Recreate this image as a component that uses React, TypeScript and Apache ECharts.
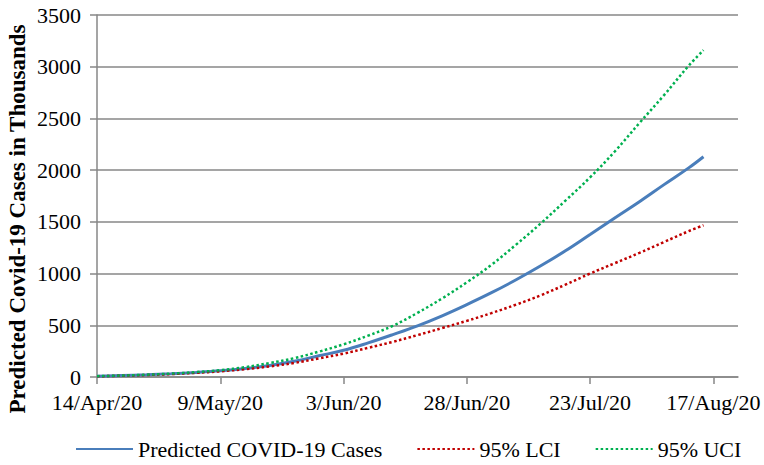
import React, { useEffect, useRef } from "react";
import * as echarts from "echarts";

// days since 14/Apr/20
const days = [0, 5, 10, 15, 20, 25, 30, 35, 40, 45, 50, 55, 60, 65, 70, 75, 80, 85, 90, 95, 100, 105, 110, 115, 120, 123];
const predicted = [8, 14, 21, 31, 44, 60, 82, 112, 152, 205, 258, 330, 410, 495, 592, 700, 815, 940, 1075, 1220, 1378, 1537, 1695, 1860, 2022, 2130];
const lci = [7, 12, 19, 28, 40, 55, 76, 102, 136, 180, 226, 282, 340, 405, 473, 543, 618, 700, 790, 893, 1000, 1100, 1200, 1305, 1410, 1467];
const uci = [8, 14, 22, 33, 47, 66, 95, 135, 182, 245, 316, 400, 495, 620, 760, 915, 1085, 1280, 1485, 1705, 1930, 2180, 2455, 2725, 3010, 3160];

const tickDays = [0, 25, 50, 75, 100, 125];
const tickLabels = ["14/Apr/20", "9/May/20", "3/Jun/20", "28/Jun/20", "23/Jul/20", "17/Aug/20"];

const seriesNames = ["Predicted COVID-19 Cases", "95% LCI", "95% UCI"];

const FONT = "Liberation Serif";
const GRID_COLOR = "#878787";

export default function App() {
  const ref = useRef<HTMLDivElement>(null);
  useEffect(() => {
    if (!ref.current) return;
    const chart = echarts.init(ref.current, undefined, { renderer: "svg" });
    const zip = (vals: number[]) => days.map((d, i) => [d, vals[i]]);
    chart.setOption({
      animation: false,
      textStyle: { fontFamily: FONT },
      grid: { left: 97, right: 26, top: 15, bottom: 88, containLabel: false },
      xAxis: {
        type: "value",
        min: 0,
        max: 130,
        interval: 25,
        axisLine: { show: true, lineStyle: { color: GRID_COLOR, width: 1.5 } },
        axisTick: { show: true, length: 7, inside: false, customValues: tickDays, lineStyle: { color: GRID_COLOR, width: 1.5 } },
        axisLabel: {
          customValues: tickDays,
          margin: 14,
          color: "#000",
          fontFamily: FONT,
          fontSize: 22,
          formatter: (v: number) => {
            const i = tickDays.indexOf(v);
            return i >= 0 ? tickLabels[i] : "";
          },
        },
        splitLine: { show: false },
      },
      yAxis: {
        type: "value",
        min: 0,
        max: 3500,
        interval: 500,
        axisLine: { show: true, lineStyle: { color: GRID_COLOR, width: 1.5 } },
        axisTick: { show: true, length: 7, inside: false, lineStyle: { color: GRID_COLOR, width: 1.5 } },
        axisLabel: {
          margin: 16,
          color: "#000",
          fontFamily: FONT,
          fontSize: 22,
          formatter: (v: number) => String(v),
        },
        splitLine: { show: true, lineStyle: { color: GRID_COLOR, width: 1.5 } },
      },
      legend: {
        top: 433,
        left: 70,
        itemWidth: 57,
        itemHeight: 12,
        itemGap: 34,
        itemStyle: { color: "transparent", borderWidth: 0, opacity: 0 },
        textStyle: { color: "#000", fontFamily: FONT, fontSize: 22 },
        data: seriesNames,
      },
      graphic: [
        {
          type: "text",
          x: 17,
          y: 219,
          rotation: Math.PI / 2,
          style: {
            text: "Predicted Covid-19 Cases in Thousands",
            fill: "#000",
            font: `bold 23px ${FONT}`,
            textAlign: "center",
            textVerticalAlign: "middle",
          },
        },
      ],
      series: [
        {
          name: seriesNames[0],
          type: "line",
          data: zip(predicted),
          smooth: 0.4,
          symbol: "none",
          z: 3,
          itemStyle: { color: "#4a7ebb" },
          lineStyle: { color: "#4a7ebb", width: 3 },
        },
        {
          name: seriesNames[1],
          type: "line",
          data: zip(lci),
          smooth: 0.4,
          symbol: "none",
          itemStyle: { color: "#c00000" },
          lineStyle: { color: "#c00000", width: 2.5, type: [2.5, 2.5] },
        },
        {
          name: seriesNames[2],
          type: "line",
          data: zip(uci),
          smooth: 0.4,
          symbol: "none",
          itemStyle: { color: "#00b050" },
          lineStyle: { color: "#00b050", width: 2.5, type: [2.5, 2.5] },
        },
      ],
    });
    return () => chart.dispose();
  }, []);
  return <div ref={ref} style={{ width: 764, height: 465, position: "absolute", left: 0, top: 0 }} />;
}
